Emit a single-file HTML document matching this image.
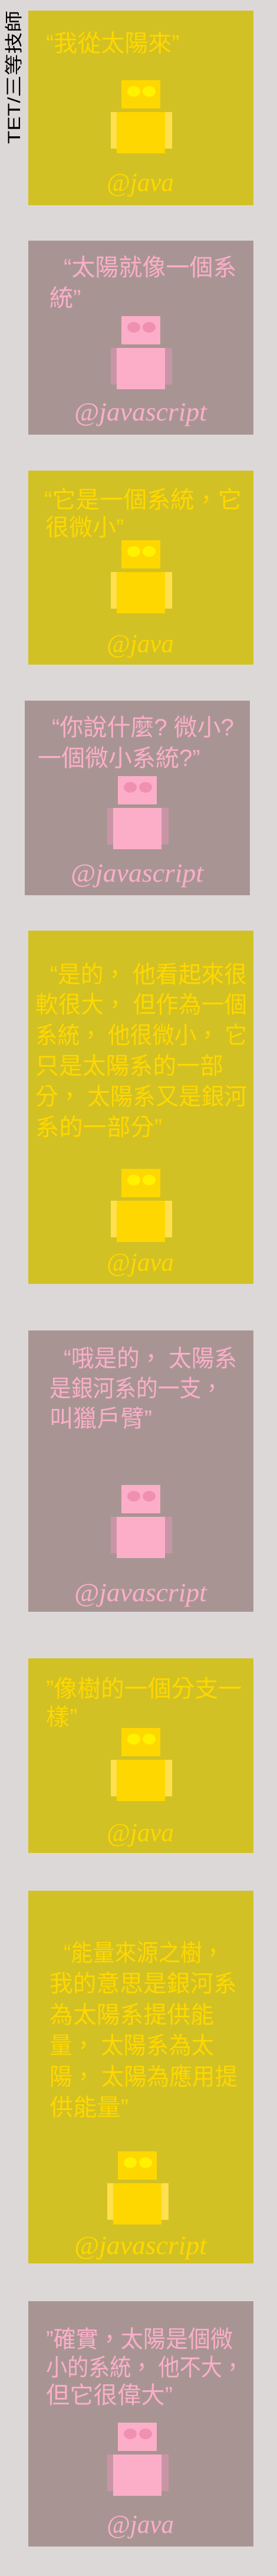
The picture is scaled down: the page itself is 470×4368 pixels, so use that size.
<!DOCTYPE html>
<html><head><meta charset="utf-8"><style>
html,body{margin:0;padding:0;background:#dcd8d7;}
svg{display:block}
.cj{font-family:"Liberation Sans","Noto Sans CJK TC",sans-serif;font-size:40px}
.lb{font-family:"Liberation Serif",serif;font-style:italic;font-size:44px}
.y{fill:#ffd700}.p{fill:#fbaec9}
</style></head><body>
<svg width="470" height="4368" viewBox="0 0 470 4368" xmlns="http://www.w3.org/2000/svg">
<defs>
<g id="ry"><rect x="-18" y="54" width="104" height="62" fill="#ffe04f"/><rect x="-8" y="54" width="82" height="70" fill="#ffd700"/><rect x="0" y="0" width="66" height="48" fill="#ffd700"/><ellipse cx="21" cy="19" rx="11" ry="9" fill="#fff200"/><ellipse cx="47" cy="19" rx="11" ry="9" fill="#fff200"/></g>
<g id="rp"><rect x="-18" y="54" width="104" height="62" fill="#c995a6"/><rect x="-8" y="54" width="82" height="70" fill="#fcaec8"/><rect x="0" y="0" width="66" height="48" fill="#fcaec8"/><ellipse cx="21" cy="19" rx="11" ry="9" fill="#f090b0"/><ellipse cx="47" cy="19" rx="11" ry="9" fill="#f090b0"/></g>
</defs>
<rect width="470" height="4368" fill="#dcd8d7"/>
<text transform="translate(34,244) rotate(-90)" font-family="Liberation Sans, Noto Sans CJK TC, sans-serif" font-size="30" fill="#000" textLength="226" lengthAdjust="spacingAndGlyphs">TET/三等技師</text>

<g>
<rect x="48" y="18" width="382" height="330" fill="#d2c124"/>
<text class="cj y" x="78" y="87">“我從太陽來”</text>
<use href="#ry" x="206" y="136"/>
<text class="lb y" x="181" y="324" textLength="114" lengthAdjust="spacingAndGlyphs">@java</text>
</g>

<g>
<rect x="48" y="408" width="382" height="329" fill="#a89593"/>
<text class="cj p"><tspan x="108" y="467">“太陽就像一個系</tspan><tspan x="84" y="519">統”</tspan></text>
<use href="#rp" x="206" y="536"/>
<text class="lb p" x="126" y="713" textLength="225" lengthAdjust="spacingAndGlyphs">@javascript</text>
</g>

<g>
<rect x="48" y="798" width="382" height="329" fill="#d2c124"/>
<text class="cj y"><tspan x="75" y="861" textLength="335" lengthAdjust="spacingAndGlyphs">“它是一個系統，它</tspan><tspan x="77" y="908">很微小”</tspan></text>
<use href="#ry" x="206" y="916"/>
<text class="lb y" x="181" y="1106" textLength="114" lengthAdjust="spacingAndGlyphs">@java</text>
</g>

<g>
<rect x="42" y="1188" width="382" height="330" fill="#a89593"/>
<text class="cj p"><tspan x="88" y="1247">“你說什麼? 微小?</tspan><tspan x="64" y="1299">一個微小系統?”</tspan></text>
<use href="#rp" x="200" y="1316"/>
<text class="lb p" x="120" y="1495" textLength="225" lengthAdjust="spacingAndGlyphs">@javascript</text>
</g>

<g>
<rect x="48" y="1578" width="382" height="599" fill="#d2c124"/>
<text class="cj y"><tspan x="85" y="1666" textLength="334" lengthAdjust="spacingAndGlyphs">“是的， 他看起來很</tspan><tspan x="60" y="1717" textLength="359" lengthAdjust="spacingAndGlyphs">軟很大， 但作為一個</tspan><tspan x="60" y="1769" textLength="359" lengthAdjust="spacingAndGlyphs">系統， 他很微小， 它</tspan><tspan x="60" y="1821" textLength="319" lengthAdjust="spacingAndGlyphs">只是太陽系的一部</tspan><tspan x="60" y="1873" textLength="359" lengthAdjust="spacingAndGlyphs">分， 太陽系又是銀河</tspan><tspan x="60" y="1925" textLength="215" lengthAdjust="spacingAndGlyphs">系的一部分”</tspan></text>
<use href="#ry" x="206" y="1982"/>
<text class="lb y" x="181" y="2155" textLength="114" lengthAdjust="spacingAndGlyphs">@java</text>
</g>

<g>
<rect x="48" y="2256" width="382" height="477" fill="#a89593"/>
<text class="cj p"><tspan x="108" y="2317" textLength="294" lengthAdjust="spacingAndGlyphs">“哦是的， 太陽系</tspan><tspan x="84" y="2368" textLength="294" lengthAdjust="spacingAndGlyphs">是銀河系的一支，</tspan><tspan x="84" y="2419" textLength="174" lengthAdjust="spacingAndGlyphs">叫獵戶臂”</tspan></text>
<use href="#rp" x="206" y="2518"/>
<text class="lb p" x="126" y="2715" textLength="225" lengthAdjust="spacingAndGlyphs">@javascript</text>
</g>

<g>
<rect x="48" y="2812" width="382" height="330" fill="#d2c124"/>
<text class="cj y"><tspan x="78" y="2877" textLength="332" lengthAdjust="spacingAndGlyphs">”像樹的一個分支一</tspan><tspan x="78" y="2925">樣”</tspan></text>
<use href="#ry" x="206" y="2930"/>
<text class="lb y" x="181" y="3122" textLength="114" lengthAdjust="spacingAndGlyphs">@java</text>
</g>

<g>
<rect x="48" y="3206" width="382" height="632" fill="#d2c124"/>
<text class="cj y"><tspan x="108" y="3325" textLength="272" lengthAdjust="spacingAndGlyphs">“能量來源之樹，</tspan><tspan x="84" y="3377" textLength="318" lengthAdjust="spacingAndGlyphs">我的意思是銀河系</tspan><tspan x="84" y="3430" textLength="279" lengthAdjust="spacingAndGlyphs">為太陽系提供能</tspan><tspan x="84" y="3482" textLength="279" lengthAdjust="spacingAndGlyphs">量， 太陽系為太</tspan><tspan x="84" y="3535" textLength="319" lengthAdjust="spacingAndGlyphs">陽， 太陽為應用提</tspan><tspan x="84" y="3587" textLength="134" lengthAdjust="spacingAndGlyphs">供能量”</tspan></text>
<use href="#ry" x="200" y="3648"/>
<text class="lb y" x="126" y="3822" textLength="225" lengthAdjust="spacingAndGlyphs">@javascript</text>
</g>

<g>
<rect x="48" y="3902" width="382" height="416" fill="#a89593"/>
<text class="cj p"><tspan x="78" y="3980" textLength="317" lengthAdjust="spacingAndGlyphs">”確實，太陽是個微</tspan><tspan x="78" y="4028" textLength="335" lengthAdjust="spacingAndGlyphs">小的系統， 他不大，</tspan><tspan x="78" y="4075" textLength="215" lengthAdjust="spacingAndGlyphs">但它很偉大”</tspan></text>
<use href="#rp" x="200" y="4108"/>
<text class="lb p" x="181" y="4295" textLength="114" lengthAdjust="spacingAndGlyphs">@java</text>
</g>
</svg>
</body></html>
